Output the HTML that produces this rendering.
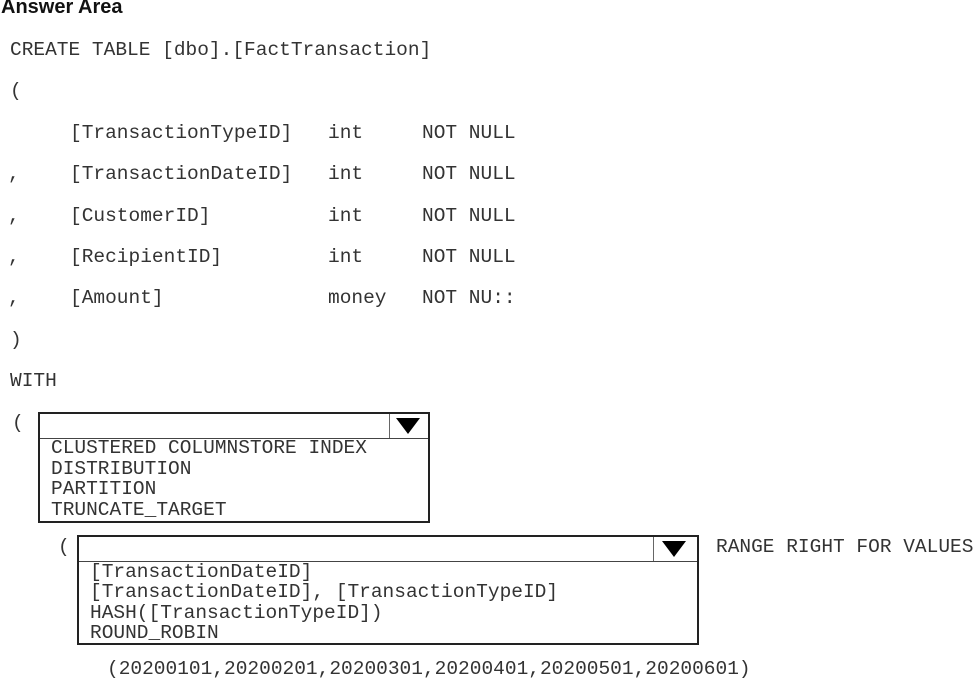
<!DOCTYPE html>
<html><head><meta charset="utf-8"><style>
body{margin:0;width:973px;height:679px;background:#fff;position:relative;overflow:hidden;color:#222}
.t{position:absolute;font-family:"Liberation Mono",monospace;font-size:19.5px;line-height:20px;white-space:pre;color:#333}
.h{position:absolute;left:1px;top:-4px;font-family:"Liberation Sans",sans-serif;font-weight:bold;font-size:20px;color:#111}
.box{position:absolute;border:2px solid #222;box-sizing:border-box}
.hdr{position:absolute;left:0;right:0;top:0;border-bottom:1.5px solid #444}
.div{position:absolute;top:0;width:1px;background:#666}
.tri{position:absolute;width:0;height:0;border-left:12px solid transparent;border-right:12px solid transparent;border-top:16px solid #000}
</style></head><body>
<div class="h">Answer Area</div>
<div class="t" style="left:10px;top:40px">CREATE TABLE [dbo].[FactTransaction]</div>
<div class="t" style="left:10px;top:81px">(</div>
<div class="t" style="left:70px;top:123px">[TransactionTypeID]</div>
<div class="t" style="left:328px;top:123px">int</div>
<div class="t" style="left:422px;top:123px">NOT NULL</div>
<div class="t" style="left:8px;top:164px">,</div>
<div class="t" style="left:70px;top:164px">[TransactionDateID]</div>
<div class="t" style="left:328px;top:164px">int</div>
<div class="t" style="left:422px;top:164px">NOT NULL</div>
<div class="t" style="left:8px;top:206px">,</div>
<div class="t" style="left:70px;top:206px">[CustomerID]</div>
<div class="t" style="left:328px;top:206px">int</div>
<div class="t" style="left:422px;top:206px">NOT NULL</div>
<div class="t" style="left:8px;top:247px">,</div>
<div class="t" style="left:70px;top:247px">[RecipientID]</div>
<div class="t" style="left:328px;top:247px">int</div>
<div class="t" style="left:422px;top:247px">NOT NULL</div>
<div class="t" style="left:8px;top:288px">,</div>
<div class="t" style="left:70px;top:288px">[Amount]</div>
<div class="t" style="left:328px;top:288px">money</div>
<div class="t" style="left:422px;top:288px">NOT NU::</div>
<div class="t" style="left:10px;top:330px">)</div>
<div class="t" style="left:10px;top:371px">WITH</div>
<div class="t" style="left:12px;top:413px">(</div>

<div class="box" style="left:38px;top:412px;width:392px;height:111px">
  <div class="hdr" style="height:24px"></div>
  <div class="div" style="left:349px;height:24px"></div>
  <div class="tri" style="left:356px;top:4px"></div>
</div>
<div class="t" style="left:51px;top:438px">CLUSTERED COLUMNSTORE INDEX</div>
<div class="t" style="left:51px;top:459px">DISTRIBUTION</div>
<div class="t" style="left:51px;top:479px">PARTITION</div>
<div class="t" style="left:51px;top:500px">TRUNCATE_TARGET</div>

<div class="t" style="left:58px;top:537px">(</div>
<div class="box" style="left:77px;top:535px;width:622px;height:110px">
  <div class="hdr" style="height:24px"></div>
  <div class="div" style="left:574px;height:24px"></div>
  <div class="tri" style="left:583px;top:4px"></div>
</div>
<div class="t" style="left:716px;top:537px">RANGE RIGHT FOR VALUES</div>
<div class="t" style="left:90px;top:562px">[TransactionDateID]</div>
<div class="t" style="left:90px;top:582px">[TransactionDateID], [TransactionTypeID]</div>
<div class="t" style="left:90px;top:603px">HASH([TransactionTypeID])</div>
<div class="t" style="left:90px;top:623px">ROUND_ROBIN</div>
<div class="t" style="left:107px;top:659px">(20200101,20200201,20200301,20200401,20200501,20200601)</div>
</body></html>
